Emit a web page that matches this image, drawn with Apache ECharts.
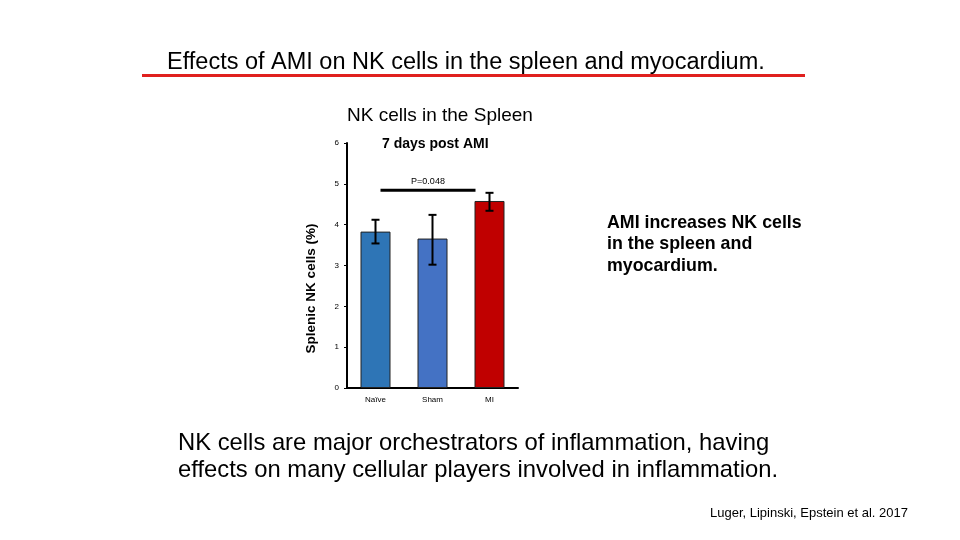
<!DOCTYPE html>
<html lang="en">
<head>
    <meta charset="UTF-8">
    <title>Effects of AMI on NK cells</title>
    <script src="https://cdn.jsdelivr.net/npm/echarts@6/dist/echarts.min.js"></script>
    <style>
        html, body { margin: 0; height: 100%; background: #fff; }
        #main { width: 960px; height: 540px; }
    </style>
</head>
<body>
<div id="main"></div>
<script>
    // data
    var groups = ['Naïve', 'Sham', 'MI'];
    var means = [3.83, 3.66, 4.58];
    var errLow = [3.54, 3.02, 4.34];
    var errHigh = [4.12, 4.24, 4.78];
    var barColors = ['#2E75B6', '#4472C4', '#C00000'];
    var yTicks = [0, 1, 2, 3, 4, 5, 6];
    var pBracket = { from: 0, to: 2, level: 4.84, text: 'P=0.048' };

    var chart = echarts.init(document.getElementById('main'));

    var errData = groups.map(function (g, i) {
        return [i, errLow[i], errHigh[i]];
    });

    var option = {
        animation: false,
        textStyle: { fontFamily: 'Liberation Sans' },
        grid: { left: 347, right: 442, top: 143, bottom: 152 },
        xAxis: {
            type: 'category',
            data: groups,
            axisLine: { lineStyle: { color: '#000', width: 2 } },
            axisTick: { lineStyle: { color: '#000' }, length: 3 },
            axisLabel: { color: '#000', fontSize: 8, margin: 8 }
        },
        yAxis: {
            type: 'value',
            min: yTicks[0],
            max: yTicks[yTicks.length - 1],
            interval: 1,
            axisLine: { show: true, lineStyle: { color: '#000', width: 2 } },
            axisTick: { show: true, lineStyle: { color: '#000' }, length: 3 },
            axisLabel: { color: '#000', fontSize: 8, margin: 8 },
            splitLine: { show: false },
            name: 'Splenic NK cells (%)',
            nameLocation: 'middle',
            nameGap: 29,
            nameTextStyle: { fontSize: 13.5, fontWeight: 'bold', color: '#000', padding: [0, 46, 0, 0] }
        },
        series: [
            {
                type: 'bar',
                barWidth: 30,
                data: means.map(function (v, i) {
                    return { value: v, itemStyle: { color: barColors[i] } };
                }),
                itemStyle: { borderColor: '#222', borderWidth: 1 }
            },
            {
                type: 'custom',
                data: errData,
                z: 10,
                renderItem: function (params, api) {
                    var lo = api.coord([api.value(0), api.value(1)]);
                    var hi = api.coord([api.value(0), api.value(2)]);
                    var cap = 4;
                    var st = { stroke: '#000', lineWidth: 2 };
                    return {
                        type: 'group',
                        children: [
                            { type: 'line', shape: { x1: hi[0], y1: hi[1], x2: lo[0], y2: lo[1] }, style: st },
                            { type: 'line', shape: { x1: hi[0] - cap, y1: hi[1], x2: hi[0] + cap, y2: hi[1] }, style: st },
                            { type: 'line', shape: { x1: lo[0] - cap, y1: lo[1], x2: lo[0] + cap, y2: lo[1] }, style: st }
                        ]
                    };
                }
            },
            {
                type: 'custom',
                data: [[pBracket.from, pBracket.to, pBracket.level]],
                z: 10,
                renderItem: function (params, api) {
                    var a = api.coord([api.value(0), api.value(2)]);
                    var b = api.coord([api.value(1), api.value(2)]);
                    var x1 = a[0] + 5, x2 = b[0] - 14;
                    return {
                        type: 'group',
                        children: [
                            { type: 'line', shape: { x1: x1, y1: a[1], x2: x2, y2: a[1] }, style: { stroke: '#000', lineWidth: 3 } },
                            { type: 'text', style: { x: (x1 + x2) / 2, y: a[1] - 4, text: pBracket.text, fill: '#000',
                                font: '9px "Liberation Sans"', textAlign: 'center', textVerticalAlign: 'bottom' } }
                        ]
                    };
                }
            }
        ],
        graphic: [
            { type: 'text', left: 167, top: 51, style: { text: 'Effects of AMI on NK cells in the spleen and myocardium.',
                fill: '#000', font: '23.5px "Liberation Sans"' } },
            { type: 'rect', shape: { x: 142, y: 74, width: 663, height: 3 }, style: { fill: '#E0201E' } },
            { type: 'text', left: 347, top: 106, style: { text: 'NK cells in the Spleen', fill: '#000', font: '19px "Liberation Sans"' } },
            { type: 'text', left: 382, top: 137, style: { text: '7 days post AMI', fill: '#000', font: 'bold 14px "Liberation Sans"' } },
            { type: 'text', left: 607, top: 212, style: { text: 'AMI increases NK cells\nin the spleen and\nmyocardium.',
                fill: '#000', font: 'bold 17.8px "Liberation Sans"', lineHeight: 21.5 } },
            { type: 'text', left: 178, top: 430, style: { text: 'NK cells are major orchestrators of inflammation, having\neffects on many cellular players involved in inflammation.',
                fill: '#000', font: '23.8px "Liberation Sans"', lineHeight: 27 } },
            { type: 'text', right: 52, top: 507, style: { text: 'Luger, Lipinski, Epstein et al. 2017',
                fill: '#000', font: '13px "Liberation Sans"' } }
        ]
    };

    chart.setOption(option);
</script>
</body>
</html>
